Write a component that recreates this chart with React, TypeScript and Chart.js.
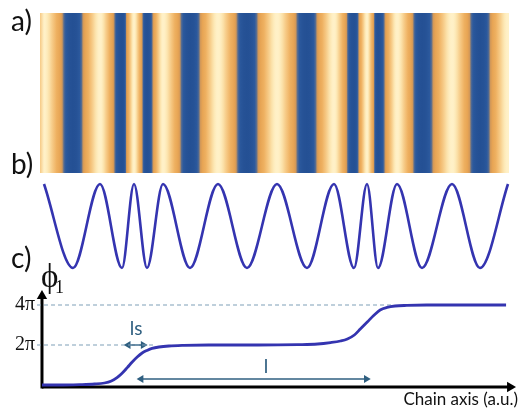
import React, { useEffect, useRef } from "react";
import { Chart, registerables } from "chart.js";

Chart.register(...registerables);

// ---------- data (chain axis in arbitrary units) ----------
const X_MIN = 40;
const X_MAX = 518;

// panel a: extent of the density map
const stripeStart = 40;
const stripeEnd = 509;

// panel b: extrema of the wave (maxima and minima, alternating)
const waveX = [44, 73, 100, 122, 134, 147, 163, 190, 218, 247, 277, 307, 334, 354, 367, 378, 397, 422, 452, 480, 508];
const waveY = [1, -1, 1, -1, 1, -1, 1, -1, 1, -1, 1, -1, 1, -1, 1, -1, 1, -1, 1, -1, 1];

// panel c: phase phi_1 (in units of pi)
const phaseX = [42, 60, 80, 95, 105, 112, 118, 123, 128, 133, 138, 143, 148, 153, 160, 170, 185, 210, 260, 300, 320, 333, 343, 350, 357, 363, 370, 377, 383, 390, 398, 410, 430, 510];
const phaseY = [0, 0, 0.02, 0.05, 0.1, 0.2, 0.38, 0.6, 0.87, 1.15, 1.4, 1.6, 1.73, 1.83, 1.9, 1.95, 1.98, 2.0, 2.0, 2.02, 2.05, 2.12, 2.2, 2.3, 2.5, 2.8, 3.15, 3.5, 3.75, 3.88, 3.95, 3.98, 4.0, 4.0];
const phaseTicks = [2, 4];
const phaseTickLabels = ["2π", "4π"];
const guideStart = 37;
const guideEnds = [157, 397]; // where the curve reaches 2π, 4π
const lsArrow = { from: 129, to: 144, level: 2 };
const lArrow = { from: 142, to: 369, level: 0.3 };
const axisOrigin = { x: 42, y: -0.1 };
const axisEnds = { x: 514, y: 4.45 };

// ---------- helpers ----------
const cmap: [number, number[]][] = [
  [-1.0, [36, 80, 148]],
  [-0.7, [44, 89, 157]],
  [-0.56, [78, 104, 148]],
  [-0.44, [196, 146, 96]],
  [-0.3, [228, 160, 80]],
  [0.2, [238, 176, 96]],
  [0.65, [247, 204, 136]],
  [0.9, [253, 230, 178]],
  [1.0, [255, 241, 200]],
];
function colorFor(v: number) {
  if (v <= cmap[0][0]) return `rgb(${cmap[0][1].join(",")})`;
  for (let i = 0; i < cmap.length - 1; i++) {
    const [a, ca] = cmap[i];
    const [b, cb] = cmap[i + 1];
    if (v <= b) {
      const t = (v - a) / (b - a);
      const c = ca.map((q, k) => Math.round(q + (cb[k] - q) * t));
      return `rgb(${c.join(",")})`;
    }
  }
  return `rgb(${cmap[cmap.length - 1][1].join(",")})`;
}

const textPlugin = {
  id: "panelText",
  afterDatasetsDraw(chart: any, _args: any, opts: any) {
    const items = (opts && opts.items) || [];
    const ctx = chart.ctx;
    ctx.save();
    for (const it of items) {
      ctx.font = it.font;
      ctx.fillStyle = it.color || "#111";
      ctx.textAlign = it.align || "left";
      ctx.textBaseline = it.baseline || "alphabetic";
      const x = it.px !== undefined ? it.px : chart.scales.x.getPixelForValue(it.x);
      const y = it.py !== undefined ? it.py : chart.scales.y.getPixelForValue(it.y);
      ctx.fillText(it.text, x, y);
    }
    ctx.restore();
  },
};

const baseOptions = (padding: any, ymin: number, ymax: number, items: any[]) => ({
  responsive: false,
  animation: false as const,
  layout: { padding },
  scales: {
    x: { type: "linear" as const, min: X_MIN, max: X_MAX, display: false },
    y: { type: "linear" as const, min: ymin, max: ymax, display: false },
  },
  plugins: {
    legend: { display: false },
    tooltip: { enabled: false },
    panelText: { items },
  },
  events: [] as any[],
});

const LABEL_FONT = '28px Lato, "Open Sans", sans-serif';
const CURVE = "#3434b0";
const ARROW = "#2f5f80";
const GUIDE = "#7f9fb8";

export default function App() {
  const refA = useRef<HTMLCanvasElement>(null);
  const refB = useRef<HTMLCanvasElement>(null);
  const refC = useRef<HTMLCanvasElement>(null);

  useEffect(() => {
    const stripeFill = (ctx: any) => {
      const chart = ctx.chart;
      const area = chart.chartArea;
      if (!area) return "rgba(0,0,0,0)";
      const xs = chart.scales.x;
      const w = area.right - area.left;
      const g = chart.ctx.createLinearGradient(area.left, 0, area.right, 0);
      const off = (x: number) => Math.min(1, Math.max(0, (xs.getPixelForValue(x) - area.left) / w));
      g.addColorStop(0, colorFor(0.6));
      const N = 16;
      for (let i = 0; i < waveX.length - 1; i++) {
        for (let k = 0; k < N; k++) {
          const t = k / N;
          const x = waveX[i] + (waveX[i + 1] - waveX[i]) * t;
          const v = Math.cos((i + t) * Math.PI);
          g.addColorStop(off(x), colorFor(v));
        }
      }
      g.addColorStop(off(waveX[waveX.length - 1]), colorFor(waveY[waveY.length - 1]));
      g.addColorStop(1, colorFor(waveY[waveY.length - 1]));
      return g;
    };

    const chartA = new Chart(refA.current!, {
      type: "line",
      data: {
        datasets: [
          {
            data: [
              { x: stripeStart, y: 1 },
              { x: stripeEnd, y: 1 },
            ],
            fill: "origin",
            borderWidth: 0,
            pointRadius: 0,
            backgroundColor: stripeFill,
          } as any,
        ],
      },
      options: baseOptions({ left: 40, right: 2, top: 13, bottom: 237 }, 0, 1, [
        { text: "a)", font: LABEL_FONT, px: 11, py: 31 },
      ]) as any,
      plugins: [textPlugin],
    });

    const chartB = new Chart(refB.current!, {
      type: "line",
      data: {
        datasets: [
          {
            data: waveX.map((x, i) => ({ x, y: waveY[i] })),
            borderColor: CURVE,
            borderWidth: 2.6,
            pointRadius: 0,
            cubicInterpolationMode: "monotone",
            clip: false,
          } as any,
        ],
      },
      options: baseOptions({ left: 40, right: 2, top: 184, bottom: 142 }, -1, 1, [
        { text: "b)", font: LABEL_FONT, px: 11, py: 174 },
        { text: "c)", font: LABEL_FONT, px: 11, py: 268 },
      ]) as any,
      plugins: [textPlugin],
    });

    const line = (pts: any[], extra: any) => ({
      data: pts,
      pointRadius: 0,
      clip: false,
      ...extra,
    });

    const chartC = new Chart(refC.current!, {
      type: "line",
      data: {
        datasets: [
          line(phaseX.map((x, i) => ({ x, y: phaseY[i] })), {
            borderColor: CURVE,
            borderWidth: 2.8,
            cubicInterpolationMode: "monotone",
          }),
          ...phaseTicks.map((lv, i) =>
            line(
              [
                { x: guideStart, y: lv },
                { x: guideEnds[i], y: lv },
              ],
              { borderColor: GUIDE, borderWidth: 1.2, borderDash: [4, 3] }
            )
          ),
          line(
            [
              { x: axisOrigin.x, y: axisOrigin.y - 0.075 },
              { x: axisOrigin.x, y: axisEnds.y },
            ],
            {
              borderColor: "#000",
              borderWidth: 3,
              pointStyle: "triangle",
              pointRadius: [0, 6],
              pointBackgroundColor: "#000",
              pointBorderWidth: 0,
              pointRotation: 0,
            }
          ),
          line(
            [
              { x: axisOrigin.x, y: axisOrigin.y },
              { x: axisEnds.x, y: axisOrigin.y },
            ],
            {
              borderColor: "#000",
              borderWidth: 3,
              pointStyle: "triangle",
              pointRadius: [0, 6],
              pointBackgroundColor: "#000",
              pointBorderWidth: 0,
              pointRotation: 90,
            }
          ),
          ...[lsArrow, lArrow].map((a) =>
            line(
              [
                { x: a.from, y: a.level },
                { x: a.to, y: a.level },
              ],
              {
                borderColor: ARROW,
                borderWidth: 1.5,
                pointStyle: "triangle",
                pointRadius: 4.5,
                pointBackgroundColor: ARROW,
                pointBorderWidth: 0,
                pointRotation: [270, 90],
              }
            )
          ),
        ] as any,
      },
      options: baseOptions({ left: 40, right: 2, top: 289, bottom: 22 }, -0.15, 4.8, [
        ...phaseTicks.map((v, i) => ({
          text: phaseTickLabels[i],
          font: '20px "Liberation Serif", serif',
          align: "right",
          baseline: "middle",
          px: 35,
          y: v,
        })),
        { text: "ϕ", font: '33px "Liberation Serif", serif', px: 41, py: 287 },
        { text: "1", font: '18px "Liberation Serif", serif', px: 55, py: 293 },
        { text: "ls", font: '19px Lato, sans-serif', color: ARROW, align: "center", px: 136, py: 335 },
        { text: "l", font: '19px Lato, sans-serif', color: ARROW, align: "center", px: 266, py: 373 },
        { text: "Chain axis (a.u.)", font: '17px Lato, sans-serif', align: "right", px: 518, py: 405 },
      ]) as any,
      plugins: [textPlugin],
    });

    return () => {
      chartA.destroy();
      chartB.destroy();
      chartC.destroy();
    };
  }, []);

  const cv: React.CSSProperties = { position: "absolute", left: 0, top: 0 };
  return (
    <div style={{ position: "absolute", left: 0, top: 0, width: 520, height: 410, background: "#fff", overflow: "hidden" }}>
      <canvas ref={refA} width={520} height={410} style={cv} />
      <canvas ref={refB} width={520} height={410} style={cv} />
      <canvas ref={refC} width={520} height={410} style={cv} />
    </div>
  );
}
